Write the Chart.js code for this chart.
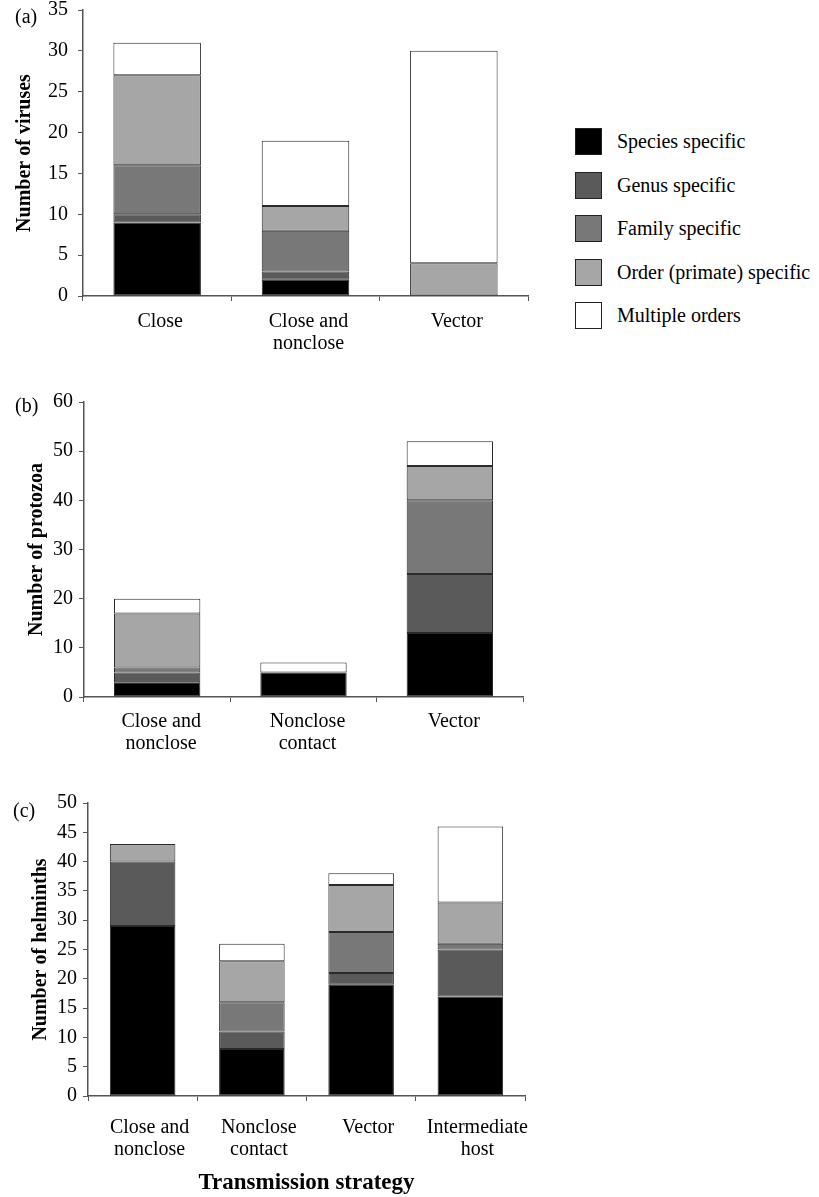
<!DOCTYPE html>
<html><head><meta charset="utf-8">
<script src="https://cdn.jsdelivr.net/npm/chart.js@4.4.0/dist/chart.umd.min.js"></script>
<style>
body{margin:0;background:#fff;width:819px;height:1197px;position:relative;overflow:hidden;font-family:'Liberation Serif',serif;color:#000;}
canvas{position:absolute;left:0;}
.plab{position:absolute;font-size:20px;line-height:20px;}
.lbox{position:absolute;width:25px;height:25px;border:1.5px solid #222;}
.ltxt{position:absolute;font-size:20px;white-space:nowrap;line-height:24px;}
</style></head>
<body>
<canvas id="cA" width="540" height="360" style="top:0px"></canvas>
<canvas id="cB" width="540" height="400" style="top:380px"></canvas>
<canvas id="cC" width="540" height="417" style="top:780px"></canvas>
<div class="plab" style="left:15px;top:6px">(a)</div>
<div class="plab" style="left:15px;top:395px">(b)</div>
<div class="plab" style="left:13px;top:800px">(c)</div>
<div id="legend"></div>
<script>
// ---- data ----
const seriesNames = ['Species specific','Genus specific','Family specific','Order (primate) specific','Multiple orders'];
const seriesColors = ['#000000','#5a5a5a','#787878','#a6a6a6','#ffffff'];

const virusCategories = [['Close'], ['Close and','nonclose'], ['Vector']];
const virusSpecies  = [9, 2, 0];
const virusGenus    = [1, 1, 0];
const virusFamily   = [6, 5, 0];
const virusOrder    = [11, 3, 4];
const virusMultiple = [4, 8, 26];
const virusTicks = [0,5,10,15,20,25,30,35];

const protozoaCategories = [['Close and','nonclose'], ['Nonclose','contact'], ['Vector']];
const protozoaSpecies  = [3, 5, 13];
const protozoaGenus    = [2, 0, 12];
const protozoaFamily   = [1, 0, 15];
const protozoaOrder    = [11, 0, 7];
const protozoaMultiple = [3, 2, 5];
const protozoaTicks = [0,10,20,30,40,50,60];

const helminthCategories = [['Close and','nonclose'], ['Nonclose','contact'], ['Vector'], ['Intermediate','host']];
const helminthSpecies  = [29, 8, 19, 17];
const helminthGenus    = [11, 3, 2, 8];
const helminthFamily   = [0, 5, 7, 1];
const helminthOrder    = [3, 7, 8, 7];
const helminthMultiple = [0, 3, 2, 13];
const helminthTicks = [0,5,10,15,20,25,30,35,40,45,50];

// ---- drawing ----
Chart.defaults.font.family = "'Liberation Serif', 'Times New Roman', serif";
Chart.defaults.color = '#000';
const axisColor = '#555';

function makeChart(id, cats, values, tickVals, cfg){
  const datasets = values.map((v,i)=>({
    label: seriesNames[i], data: v,
    backgroundColor: seriesColors[i], borderColor: '#2a2a2a', borderWidth: 1, borderSkipped: false,
    barPercentage: cfg.bp, categoryPercentage: 1
  }));
  const xTitle = cfg.xtitle ? {display:true, text:cfg.xtitle, color:'#000', font:{size:23, weight:'bold'}, padding:{top:0,bottom:0}} : {display:false};
  return new Chart(document.getElementById(id), {
    type:'bar',
    data:{labels:cats, datasets},
    options:{
      responsive:false, animation:false,
      layout:{padding:{top:cfg.top, right:cfg.right, left:0, bottom:0}},
      plugins:{legend:{display:false}, tooltip:{enabled:false}},
      scales:{
        x:{stacked:true,
           grid:{display:true, drawOnChartArea:false, tickLength:5, color:axisColor, offset:true, lineWidth:1},
           border:{display:true, color:axisColor, width:1.5},
           ticks:{font:{size:20, lineHeight:1.1}, color:'#000', padding:cfg.xpad, labelOffset:cfg.lo, maxRotation:0, autoSkip:false},
           title:xTitle,
           afterFit:(s)=>{ s.height = cfg.xh; s.paddingLeft = 0; s.paddingRight = 0; }
        },
        y:{stacked:true, min:0, max:tickVals[tickVals.length-1],
           afterBuildTicks:(s)=>{ s.ticks = tickVals.map(v=>({value:v})); },
           ticks:{font:{size:20}, color:'#000', padding:cfg.ypad},
           grid:{display:true, drawOnChartArea:false, tickLength:5, color:axisColor, lineWidth:1},
           border:{display:true, color:axisColor, width:1.5},
           title:{display:true, text:cfg.ytitle, color:'#000', font:{size:20, weight:'bold'}, padding:{top:cfg.ytp, bottom:0}},
           afterFit:(s)=>{ s.width = cfg.yw; s.paddingTop = 0; s.paddingBottom = 0; }
        }
      }
    }
  });
}

makeChart('cA', virusCategories, [virusSpecies, virusGenus, virusFamily, virusOrder, virusMultiple], virusTicks,
  {top:10, right:12, xh:64, yw:83, bp:0.59, xpad:10, lo:3, ypad:10, ytitle:'Number of viruses', ytp:13});
makeChart('cB', protozoaCategories, [protozoaSpecies, protozoaGenus, protozoaFamily, protozoaOrder, protozoaMultiple], protozoaTicks,
  {top:22, right:17, xh:83, yw:84, bp:0.59, xpad:9, lo:4, ypad:6, ytitle:'Number of protozoa', ytp:25});
makeChart('cC', helminthCategories, [helminthSpecies, helminthGenus, helminthFamily, helminthOrder, helminthMultiple], helminthTicks,
  {top:23, right:15, xh:101, yw:88, bp:0.6, xpad:16, lo:7, ypad:6, ytitle:'Number of helminths', ytp:29, xtitle:'Transmission strategy'});

// legend (HTML, built from series arrays)
const leg = document.getElementById('legend');
seriesNames.forEach((name,i)=>{
  const cy = 142 + i*43.5;
  const b = document.createElement('div');
  b.className='lbox'; b.style.left='575px'; b.style.top=(cy-14)+'px'; b.style.background=seriesColors[i];
  const t = document.createElement('div');
  t.className='ltxt'; t.style.left='617px'; t.style.top=(cy-13)+'px'; t.textContent=name;
  leg.appendChild(b); leg.appendChild(t);
});
</script>
</body></html>
